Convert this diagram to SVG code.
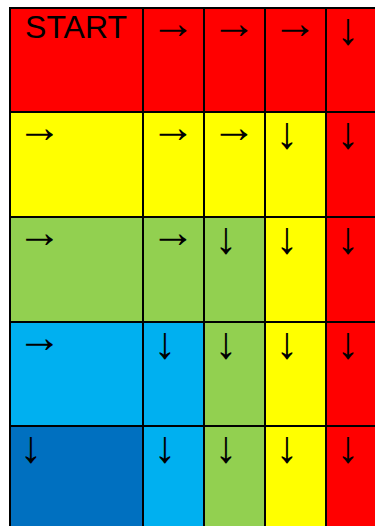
<svg xmlns="http://www.w3.org/2000/svg" width="375" height="526" viewBox="0 0 375 526">
<style>
.c{stroke:#000;stroke-width:2}
.r{fill:#FF0000}.y{fill:#FFFF00}.g{fill:#92D050}.lb{fill:#00B0F0}.db{fill:#0070C0}
.t{font-family:"Liberation Sans",Arial,sans-serif;fill:#000}
.a,.d{font-family:"Liberation Sans",Arial,sans-serif;font-size:45px;fill:#000;text-anchor:middle}
</style>
<rect width="375" height="526" fill="#fff"/>
<g id="r1c1"><rect class="c r" x="10" y="8" width="133" height="104"/><text class="t" x="76" y="38" font-size="32" text-anchor="middle">START</text></g>
<g id="r1c2"><rect class="c r" x="143" y="8" width="61" height="104"/><text class="a" x="173" y="38">→</text></g>
<g id="r1c3"><rect class="c r" x="204" y="8" width="61" height="104"/><text class="a" x="234" y="38">→</text></g>
<g id="r1c4"><rect class="c r" x="265" y="8" width="61" height="104"/><text class="a" x="295" y="38">→</text></g>
<g id="r1c5"><rect class="c r" x="326" y="8" width="60" height="104"/><text class="d" x="348" y="44">↓</text></g>

<g id="r2c1"><rect class="c y" x="10" y="112" width="133" height="105"/><text class="a" x="39.5" y="142">→</text></g>
<g id="r2c2"><rect class="c y" x="143" y="112" width="61" height="105"/><text class="a" x="173" y="142">→</text></g>
<g id="r2c3"><rect class="c y" x="204" y="112" width="61" height="105"/><text class="a" x="234" y="142">→</text></g>
<g id="r2c4"><rect class="c y" x="265" y="112" width="61" height="105"/><text class="d" x="287" y="148">↓</text></g>
<g id="r2c5"><rect class="c r" x="326" y="112" width="60" height="105"/><text class="d" x="348" y="148">↓</text></g>

<g id="r3c1"><rect class="c g" x="10" y="217" width="133" height="105"/><text class="a" x="39.5" y="247">→</text></g>
<g id="r3c2"><rect class="c g" x="143" y="217" width="61" height="105"/><text class="a" x="173" y="247">→</text></g>
<g id="r3c3"><rect class="c g" x="204" y="217" width="61" height="105"/><text class="d" x="226" y="253">↓</text></g>
<g id="r3c4"><rect class="c y" x="265" y="217" width="61" height="105"/><text class="d" x="287" y="253">↓</text></g>
<g id="r3c5"><rect class="c r" x="326" y="217" width="60" height="105"/><text class="d" x="348" y="253">↓</text></g>

<g id="r4c1"><rect class="c lb" x="10" y="322" width="133" height="104"/><text class="a" x="39.5" y="352">→</text></g>
<g id="r4c2"><rect class="c lb" x="143" y="322" width="61" height="104"/><text class="d" x="165" y="358">↓</text></g>
<g id="r4c3"><rect class="c g" x="204" y="322" width="61" height="104"/><text class="d" x="226" y="358">↓</text></g>
<g id="r4c4"><rect class="c y" x="265" y="322" width="61" height="104"/><text class="d" x="287" y="358">↓</text></g>
<g id="r4c5"><rect class="c r" x="326" y="322" width="60" height="104"/><text class="d" x="348" y="358">↓</text></g>

<g id="r5c1"><rect class="c db" x="10" y="426" width="133" height="110"/><text class="d" x="31" y="462">↓</text></g>
<g id="r5c2"><rect class="c lb" x="143" y="426" width="61" height="110"/><text class="d" x="165" y="462">↓</text></g>
<g id="r5c3"><rect class="c g" x="204" y="426" width="61" height="110"/><text class="d" x="226" y="462">↓</text></g>
<g id="r5c4"><rect class="c y" x="265" y="426" width="61" height="110"/><text class="d" x="287" y="462">↓</text></g>
<g id="r5c5"><rect class="c r" x="326" y="426" width="60" height="110"/><text class="d" x="348" y="462">↓</text></g>
<g id="connectors"/>
</svg>
